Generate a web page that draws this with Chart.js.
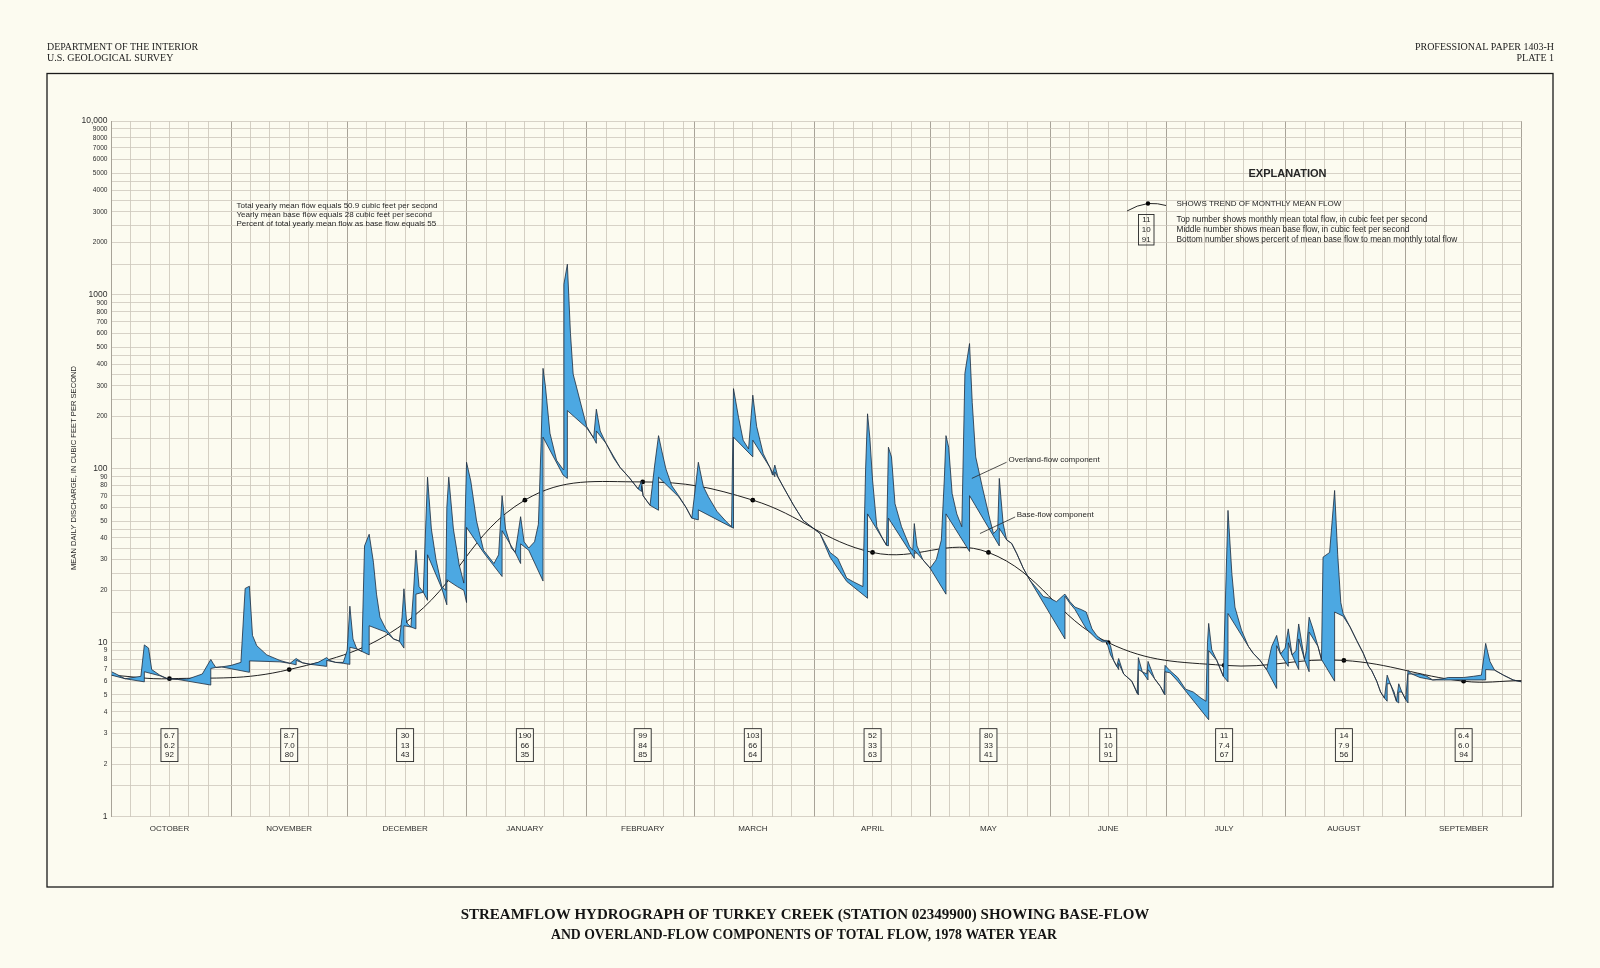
<!DOCTYPE html>
<html>
<head>
<meta charset="utf-8">
<script src="https://cdn.jsdelivr.net/npm/chart.js@4.4.0/dist/chart.umd.min.js"></script>
<style>
  html, body { margin: 0; padding: 0; background: #fcfbf0; }
  canvas { display: block; }
</style>
</head>
<body>
<canvas id="hydrograph" width="1600" height="968"></canvas>
<script>
// daily discharge, [day of water year, cubic feet per second]
const totalFlow = [
  [0,6.8],[1.2,6.6],[3.5,6.2],[7.6,6.4],[8.5,9.7],[9.6,9.3],[10.4,7.0],[12.5,6.5],[14.5,6.2],[17,6.15],
  [20,6.2],[23.5,6.6],[25.7,8.0],[26.3,7.6],[27,7.2],[28.5,7.25],[31,7.4],[33.5,7.7],[34.6,20.5],[35.7,21.1],
  [36.5,11],[37.6,9.6],[40.2,8.5],[43.6,7.9],[46.2,7.6],[47.8,8.1],[49.5,7.65],[51.5,7.5],[53.5,7.7],[55.7,8.2],
  [56.5,7.9],[58,7.7],[60,7.7],[61,9],[61.7,16.2],[62.5,10.5],[63.5,9.2],[64.8,8.9],[65.5,36],[66.7,42],
  [67.8,29],[68.6,19],[69.5,14],[71,12],[73,10.5],[74.5,10.2],[75.2,14],[75.7,20.4],[76.4,13],[77.5,12.3],
  [78.2,20],[78.8,34],[79.6,21],[80.7,19.5],[81.3,45],[81.8,89.5],[82.8,45],[84,30],[85.5,21],[86.5,20],
  [86.8,60],[87.3,89.5],[88.5,45],[90,28],[91.2,22],[91.6,60],[91.9,109],[93,85],[94.5,50],[96.3,34],
  [99,28.5],[100.2,32],[101.1,70],[102,45],[103.5,35],[104.5,33],[105.9,53],[106.8,38],[108,35],[109.5,38],
  [110.5,48],[111.2,140],[111.7,378],[112.3,300],[113.5,160],[115.2,112],[116.9,99],[117.1,1150],[118,1500],[118.8,600],
  [119.5,350],[121.3,245],[123,175],[124.8,150],[125.5,220],[126.5,165],[128,140],[130,115],[131.6,102],[134,89],
  [136.3,76.6],[137.2,85],[137.6,70],[139.4,61.6],[140.6,105],[141.6,155],[142.5,125],[143.5,100],[145,80],[146.8,70],
  [148.7,60],[150.2,52],[151.2,80],[151.9,109],[153.2,79],[154.5,69],[156.7,57],[159,50],[160.5,46.4],[161,289],
  [162.3,198],[163.5,146],[164.9,130],[166,265],[167,175],[168.7,122],[170.4,102],[171.1,92],[171.7,105],[172.5,90],
  [173.9,78.6],[176.5,62],[179,50.5],[183.4,42.4],[186,33],[188,30.5],[190.3,23.5],[192,22.4],[194.5,21],[195.2,100],
  [195.7,207],[196.3,150],[197,86],[198.1,46.4],[199.4,40.5],[200.6,36.3],[201.1,133],[201.9,117],[202.8,63],[204.5,46.4],
  [206.6,35.7],[207.4,34],[207.8,48.4],[208.5,36],[210,30],[211.9,26.8],[213.5,30],[214.8,38.9],[215.6,90],[216,155],
  [216.7,133],[217.6,72],[218.8,55],[220.1,46.4],[220.9,354],[222.1,525],[222.8,240],[223.7,117],[225.4,78.6],[227.4,50.8],
  [228.3,42.4],[229.4,45],[229.8,88],[230.8,48.4],[231.7,39],[233,37.2],[234.3,32.6],[236,26.8],[237.7,22.9],[239.9,20],
  [241.2,18.4],[242.9,18],[244.6,17.2],[246.4,18.7],[246.8,19],[248.1,17.2],[249.4,16],[251,15.5],[252.3,15],[253.8,12],
  [255,11],[256.5,10.3],[257.6,10.3],[258.6,9.6],[259.4,7.9],[260.2,7.3],[260.7,8.1],[262,6.6],[264.1,6.0],[265.5,5.1],
  [265.8,8.2],[266.8,6.8],[268,6.6],[268.3,7.8],[270,6.2],[271.5,5.6],[272.4,5.1],[272.7,7.4],[274,6.9],[276,6.3],
  [278,5.4],[280,5.2],[282,4.8],[283.3,4.6],[283.7,10],[284,12.9],[284.8,9.1],[286.1,7.9],[287.8,6.4],[288.4,20],
  [289,57.6],[290,25],[290.8,16],[292.5,11.8],[294.3,9.5],[295.5,8.7],[297.3,7.9],[299,7.0],[300.3,9.5],[301.6,11],
  [302.6,8.6],[303.8,9.3],[304.6,12],[305.6,8.5],[306.6,9],[307.3,12.8],[308.8,8.0],[309.3,9],[310,14],[311,12],
  [312.3,9.5],[313.2,8],[313.6,31],[315.3,33],[316.6,75],[317.4,32],[318.2,17],[318.8,14.7],[320.6,12.3],[322.3,10.3],
  [324,8.7],[325.4,7.3],[326.2,6.9],[327.5,6.0],[328.5,5.2],[329.5,4.8],[330.2,6.5],[331,5.8],[332,5.2],[332.6,4.6],
  [333.2,5.8],[334,5.2],[335,4.7],[335.6,6.9],[336.6,6.6],[338.7,6.6],[340.5,6.4],[342,6.1],[344.7,6.2],[346,6.3],
  [350,6.3],[352.5,6.4],[354.6,6.5],[355.7,9.9],[356.8,7.8],[358,6.95],[360.3,6.5],[362.8,6.1],[365,5.95]
];

const baseFlow = [
  [0,6.5],[3.5,6.2],[8.5,5.95],[8.5,6.8],[12.5,6.45],[14.5,6.2],[17,6.15],[25.7,5.7],[25.7,7.1],[27,7.2],
  [28.5,7.25],[35.7,6.75],[35.7,7.85],[43.6,7.75],[46.2,7.6],[47.8,7.45],[47.8,7.9],[49.5,7.65],[51.5,7.5],[55.7,7.3],
  [55.7,7.9],[58,7.7],[60,7.6],[61.7,7.5],[61.7,9.4],[63.5,9.2],[64.8,8.9],[66.7,8.5],[66.7,12.5],[71,11.5],
  [73,10.5],[74.5,10.2],[75.7,9.3],[75.7,12.5],[77.5,12.3],[78.8,12],[78.8,19],[80.7,19.5],[81.8,17.5],[81.8,32],
  [85.5,20.5],[86.8,16.5],[86.8,23],[89.5,21],[91.2,20],[91.9,17],[91.9,46],[96.3,33],[101.1,24],[101.1,44],
  [104.5,33],[105.9,28.5],[105.9,37],[108,34],[111.7,22.6],[111.7,152],[116.9,92],[118,88],[118,216],[123,172],
  [124.8,150],[125.5,140],[125.5,165],[128,140],[131.6,102],[134,89],[136.3,76.6],[137.2,74],[137.2,80],[137.6,70],
  [139.4,61.6],[141.6,57.7],[141.6,89.5],[146.8,69],[148.7,60],[150.2,52],[151.9,50.8],[151.9,58],[161,45.5],[161,152],
  [166,117],[166,146],[170.4,102],[171.7,90],[171.7,96],[173.9,78.6],[176.5,62],[179,50.5],[183.4,42.4],[186,31],
  [190.3,22.5],[195.7,18],[195.7,55],[200.6,36.3],[201.1,36],[201.1,52],[207.8,30.5],[207.8,34],[210,30],[211.9,26.8],
  [216,19],[216,55],[222.1,33.4],[222.1,70],[229.8,36],[229.8,45.4],[231.7,39],[233,37.2],[234.3,32.6],[236,26.8],
  [237.7,22.9],[246.8,10.5],[246.8,18.5],[248.1,16.8],[249.4,15.5],[252.3,12],[255,10.5],[256.5,10.1],[257.6,10.1],[258.6,8.5],
  [259.4,7.9],[260.7,7.0],[260.7,7.6],[262,6.6],[264.1,6.0],[265.8,5.0],[265.8,7.0],[266.8,6.8],[268.3,6.1],[268.3,7.0],
  [270,6.2],[271.5,5.6],[272.7,5.0],[272.7,6.8],[274,6.7],[276,6.0],[284,3.6],[284,9.0],[286.1,7.9],[287.8,6.4],
  [289,5.95],[289,14.7],[294.3,9.5],[295.5,8.7],[297.3,7.9],[299,7.0],[301.6,5.45],[301.6,9.6],[302.6,8.6],[304.6,7.3],
  [304.6,10],[305.6,8.5],[307.3,7.0],[307.3,10.5],[308.8,8.0],[310,6.8],[310,11.5],[312.3,9.5],[313.2,8],[316.6,6.0],
  [316.6,15],[318.8,14.2],[320.6,12.3],[322.3,10.3],[324,8.7],[325.4,7.3],[326.2,6.9],[327.5,6.0],[328.5,5.2],[329.5,4.8],
  [330.2,4.6],[330.2,5.8],[331,5.8],[332.6,4.6],[333.2,4.5],[333.2,5.2],[334,5.2],[335,4.7],[335.6,4.5],[335.6,6.6],
  [336.6,6.6],[338.7,6.3],[342,6.1],[344.7,6.1],[355.7,6.1],[355.7,7.0],[358,6.95],[360.3,6.5],[362.8,6.1],[365,5.95]
];

const monthNames = ['OCTOBER','NOVEMBER','DECEMBER','JANUARY','FEBRUARY','MARCH','APRIL','MAY','JUNE','JULY','AUGUST','SEPTEMBER'];
const monthStarts = [0,31,61,92,123,151,182,212,243,273,304,335,365];
const monthMidDays = [15,46,76,107,137.5,166,197,227,258,288,319,350];
const monthlyMeanTotal = ['6.7','8.7','30','190','99','103','52','80','11','11','14','6.4'];
const monthlyMeanBase = ['6.2','7.0','13','66','84','66','33','33','10','7.4','7.9','6.0'];
const monthlyBasePercent = ['92','80','43','35','85','64','63','41','91','67','56','94'];
const monthlyBaseValue = [6.2,7.0,13,66,84,66,33,33,10,7.4,7.9,6.0];
// trend curve ends at the plot edges
const trendStart = [0,6.5];
const trendEnd = [365,6.05];

const yGridSteps = [1,1.5,2,2.5,3,3.5,4,4.5,5,6,7,8,9];
const yDecades = [1,10,100,1000];
const yLabeledTicks = [1,2,3,4,5,6,7,8,9,10,20,30,40,50,60,70,80,90,100,200,300,400,500,600,700,800,900,
  1000,2000,3000,4000,5000,6000,7000,8000,9000,10000];

const headerLeft = ['DEPARTMENT OF THE INTERIOR','U.S. GEOLOGICAL SURVEY'];
const headerRight = ['PROFESSIONAL PAPER 1403-H','PLATE 1'];
const yearNotes = ['Total yearly mean flow equals 50.9 cubic feet per second',
  'Yearly mean base flow equals 28 cubic feet per second',
  'Percent of total yearly mean flow as base flow equals 55'];
const explainBox = ['11','10','91'];
const explainLines = ['Top number shows monthly mean total flow, in cubic feet per second',
  'Middle number shows mean base flow, in cubic feet per second',
  'Bottom number shows percent of mean base flow to mean monthly total flow'];
const titleLines = ['STREAMFLOW HYDROGRAPH OF TURKEY CREEK (STATION 02349900) SHOWING BASE-FLOW',
  'AND OVERLAND-FLOW COMPONENTS OF TOTAL FLOW, 1978 WATER YEAR'];

const gridDays = [];
for (let m = 0; m < 12; m++) {
  gridDays.push(monthStarts[m]);
  for (const d of [5,10,15,20,25]) gridDays.push(monthStarts[m] + d);
}
gridDays.push(365);

const yGrid = [];
yDecades.forEach(d => yGridSteps.forEach(s => yGrid.push(s * d)));
yGrid.push(10000);

const SANS = '"Liberation Sans", Arial, sans-serif';
const SERIF = '"Liberation Serif", "DejaVu Serif", serif';
const INK = '#262626';

const paper = {
  id: 'paper',
  beforeDraw(chart) {
    const ctx = chart.ctx;
    ctx.save();
    ctx.fillStyle = '#fcfbf0';
    ctx.fillRect(0, 0, chart.width, chart.height);
    ctx.restore();
  },
  afterDraw(chart) {
    const ctx = chart.ctx;
    const x = chart.scales.x, y = chart.scales.y;
    ctx.save();

    // frame
    ctx.strokeStyle = '#1a1a1a';
    ctx.lineWidth = 1.3;
    ctx.strokeRect(47, 73.5, 1506, 813.5);

    // headers
    ctx.fillStyle = '#1c1c1c';
    ctx.font = '10px ' + SERIF;
    ctx.textBaseline = 'middle';
    ctx.textAlign = 'left';
    ctx.fillText(headerLeft[0], 47, 47, 151);
    ctx.fillText(headerLeft[1], 47, 58, 129);
    ctx.textAlign = 'right';
    ctx.fillText(headerRight[0], 1554, 47, 142);
    ctx.fillText(headerRight[1], 1554, 58);

    // yearly notes
    ctx.fillStyle = INK;
    ctx.font = '8px ' + SANS;
    ctx.textAlign = 'left';
    yearNotes.forEach((t, i) => ctx.fillText(t, 236.5, 205.5 + i * 9.2));

    // explanation
    ctx.font = 'bold 11px ' + SANS;
    ctx.textAlign = 'center';
    ctx.fillText('EXPLANATION', 1287.5, 174);
    ctx.strokeStyle = INK;
    ctx.lineWidth = 1;
    ctx.beginPath();
    ctx.moveTo(1127, 211);
    ctx.quadraticCurveTo(1137, 205, 1148, 203.5);
    ctx.quadraticCurveTo(1158, 203, 1166, 205.5);
    ctx.stroke();
    ctx.beginPath();
    ctx.arc(1148, 203.5, 2.2, 0, Math.PI * 2);
    ctx.fillStyle = '#000';
    ctx.fill();
    ctx.fillStyle = INK;
    ctx.font = '8px ' + SANS;
    ctx.textAlign = 'left';
    ctx.fillText('SHOWS TREND OF MONTHLY MEAN FLOW', 1176.5, 203.5);
    ctx.lineWidth = 0.9;
    ctx.strokeRect(1138.5, 214.5, 15.5, 30.5);
    ctx.textAlign = 'center';
    explainBox.forEach((t, i) => ctx.fillText(t, 1146.3, 220 + i * 9.8));
    ctx.textAlign = 'left';
    ctx.font = '8.3px ' + SANS;
    explainLines.forEach((t, i) => ctx.fillText(t, 1176.5, 220 + i * 9.8));

    // monthly boxes
    ctx.font = '8px ' + SANS;
    ctx.lineWidth = 0.9;
    monthMidDays.forEach((d, i) => {
      const cx = x.getPixelForValue(d);
      const top = y.getPixelForValue(3.2), bot = y.getPixelForValue(2.07);
      ctx.fillStyle = '#fcfbf0';
      ctx.fillRect(cx - 8.5, top, 17, bot - top);
      ctx.strokeRect(cx - 8.5, top, 17, bot - top);
      ctx.fillStyle = INK;
      ctx.textAlign = 'center';
      const rows = [monthlyMeanTotal[i], monthlyMeanBase[i], monthlyBasePercent[i]];
      const ys = [2.91, 2.56, 2.25];
      rows.forEach((t, k) => ctx.fillText(t, cx, y.getPixelForValue(ys[k])));
    });

    // component labels
    ctx.font = '8px ' + SANS;
    ctx.textAlign = 'left';
    ctx.lineWidth = 0.8;
    const leaders = [
      {from: [222.7, 88], to: [231.7, 109], at: [232.2, 112], text: 'Overland-flow component'},
      {from: [224.8, 42.4], to: [233.9, 52.8], at: [234.3, 54.6], text: 'Base-flow component'}
    ];
    leaders.forEach(l => {
      ctx.beginPath();
      ctx.moveTo(x.getPixelForValue(l.from[0]), y.getPixelForValue(l.from[1]));
      ctx.lineTo(x.getPixelForValue(l.to[0]), y.getPixelForValue(l.to[1]));
      ctx.stroke();
      ctx.fillText(l.text, x.getPixelForValue(l.at[0]), y.getPixelForValue(l.at[1]));
    });

    // y axis title
    ctx.save();
    ctx.translate(73.5, 468);
    ctx.rotate(-Math.PI / 2);
    ctx.textAlign = 'center';
    ctx.font = '7.6px ' + SANS;
    ctx.fillText('MEAN DAILY DISCHARGE, IN CUBIC FEET PER SECOND', 0, 0, 222);
    ctx.restore();

    // title
    ctx.font = 'bold 15px ' + SERIF;
    ctx.textAlign = 'center';
    ctx.fillStyle = '#141414';
    ctx.fillText(titleLines[0], 805, 915, 698);
    ctx.fillText(titleLines[1], 804, 935, 506);

    ctx.restore();
  }
};

const blue = '#4ca8e2';
const edge = '#1d2b3c';

new Chart(document.getElementById('hydrograph'), {
  type: 'line',
  data: {
    datasets: [
      {
        label: 'Base flow',
        data: baseFlow.map(([d, v]) => ({x: d, y: v})),
        borderColor: edge, borderWidth: 0.8, pointRadius: 0, fill: false, tension: 0
      },
      {
        label: 'Total flow',
        data: totalFlow.map(([d, v]) => ({x: d, y: v})),
        borderColor: edge, borderWidth: 0.8, pointRadius: 0, tension: 0,
        fill: 0, backgroundColor: blue
      },
      {
        label: 'Trend of monthly mean flow',
        data: [trendStart, ...monthMidDays.map((d, i) => [d, monthlyBaseValue[i]]), trendEnd].map(([d, v]) => ({x: d, y: v})),
        borderColor: '#202020', borderWidth: 1, pointRadius: 0, fill: false, tension: 0.4
      },
      {
        label: 'Monthly mean',
        data: monthMidDays.map((d, i) => ({x: d, y: monthlyBaseValue[i]})),
        showLine: false, pointRadius: 2.4, pointBackgroundColor: '#000', pointBorderWidth: 0, fill: false
      }
    ]
  },
  options: {
    responsive: false,
    devicePixelRatio: 1,
    animation: false,
    events: [],
    layout: { padding: { left: 61.5, right: 78.4, top: 121, bottom: 125.5 } },
    plugins: { legend: { display: false }, tooltip: { enabled: false } },
    scales: {
      x: {
        type: 'linear', min: 0, max: 365,
        afterBuildTicks: s => { s.ticks = gridDays.map(v => ({value: v})); },
        afterFit: s => { s.height = 0; s.paddingLeft = 0; s.paddingRight = 0; },
        ticks: { display: false },
        border: { display: false },
        grid: {
          drawTicks: false,
          lineWidth: c => monthStarts.includes(c.tick.value) ? 1 : 0.8,
          color: c => monthStarts.includes(c.tick.value) ? '#a8a398' : '#c9c4b8'
        }
      },
      x2: {
        type: 'linear', min: 0, max: 365, position: 'bottom',
        afterBuildTicks: s => { s.ticks = monthMidDays.map(v => ({value: v})); },
        afterFit: s => { s.height = 26; s.paddingLeft = 0; s.paddingRight = 0; },
        grid: { display: false, drawTicks: false },
        border: { display: false },
        ticks: {
          padding: 7, maxRotation: 0, autoSkip: false, color: '#2e2e2e',
          font: { family: SANS, size: 8 },
          callback: (v, i) => monthNames[i]
        }
      },
      y: {
        type: 'logarithmic', min: 1, max: 10000,
        afterBuildTicks: s => { s.ticks = yGrid.map(v => ({value: v})); },
        afterFit: s => { s.width = 50; s.paddingTop = 0; s.paddingBottom = 0; },
        border: { display: false },
        grid: {
          drawTicks: false,
          lineWidth: 0.8,
          color: '#cdc8bc'
        },
        ticks: {
          padding: 4, autoSkip: false, color: '#2e2e2e',
          font: c => ({ family: SANS, size: [1,10,100,1000,10000].includes(c.tick && c.tick.value) ? 8.5 : 6.6 }),
          callback: v => yLabeledTicks.includes(v) ? (v === 10000 ? '10,000' : String(v)) : ''
        }
      }
    }
  },
  plugins: [paper]
});
</script>
</body>
</html>
